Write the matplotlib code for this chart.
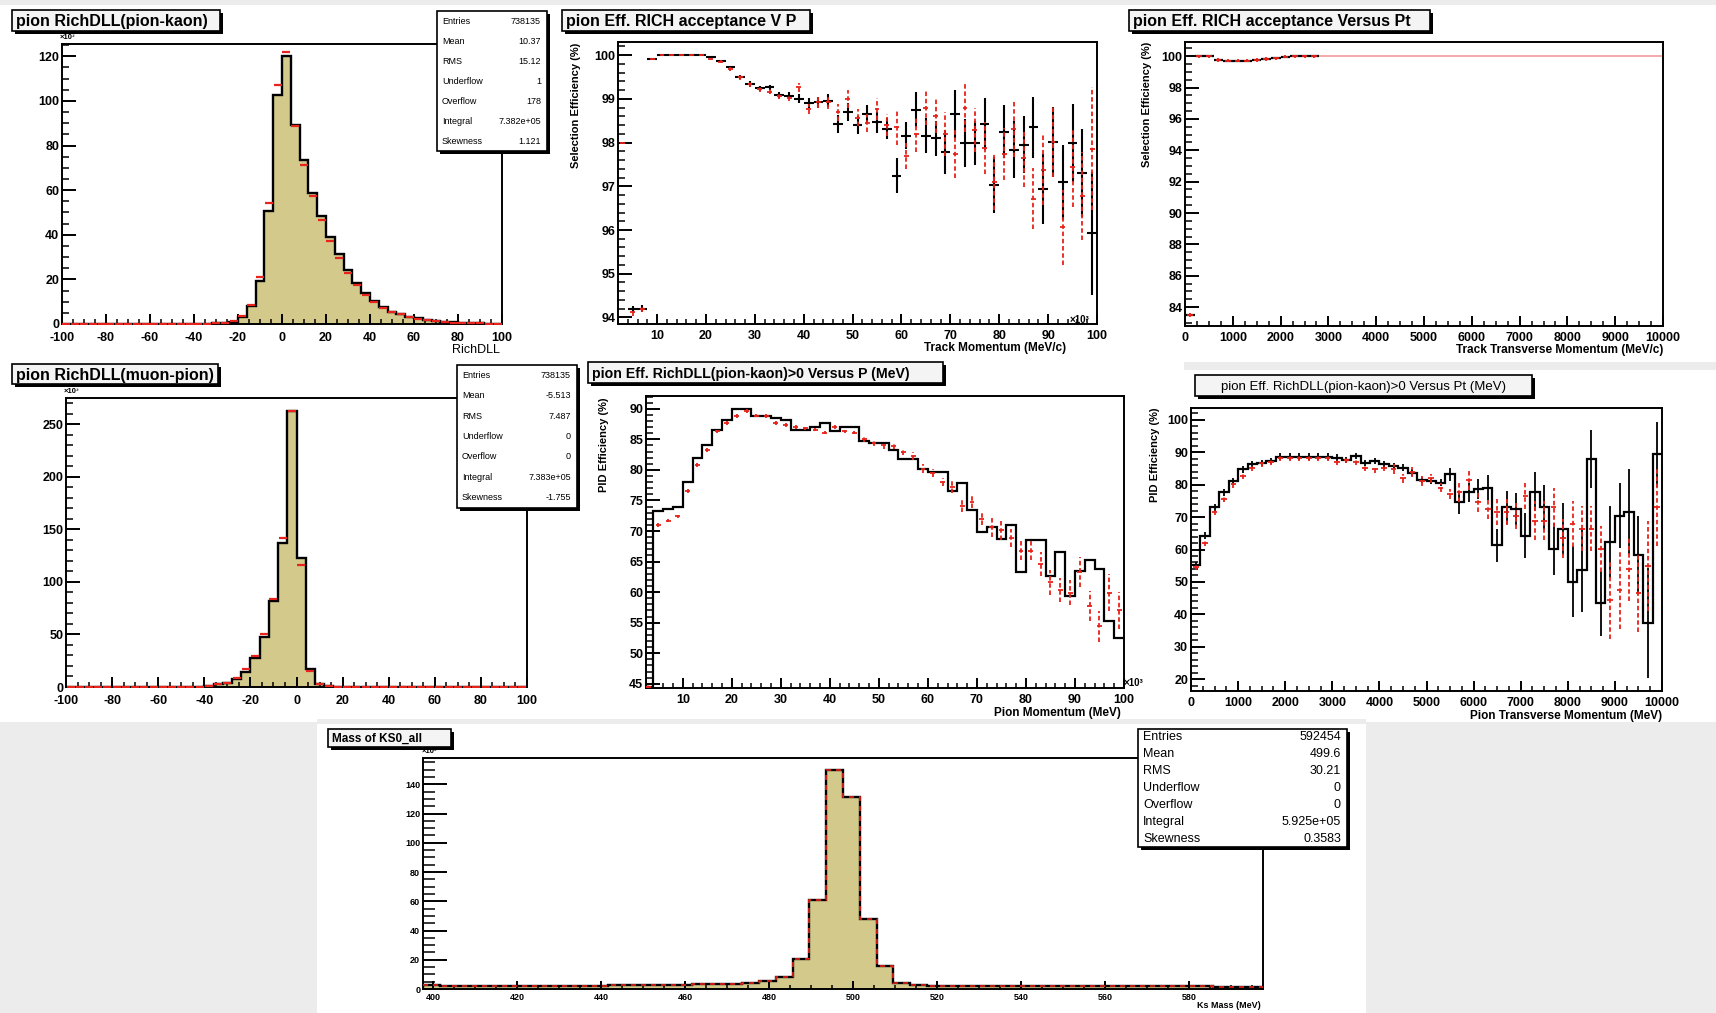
import numpy as np
import matplotlib
matplotlib.use("Agg")
import matplotlib.pyplot as plt
from matplotlib.patches import Rectangle
from matplotlib.ticker import MultipleLocator

plt.rcParams['font.family'] = ['Liberation Sans', 'DejaVu Sans']
plt.rcParams['font.weight'] = 'bold'
plt.rcParams['axes.unicode_minus'] = False

W, H = 1716, 1013

# ---------------- data ----------------
# RichDLL histograms, 50 bins from -100 to 100 (x10^3 entries)
dll_edges = np.linspace(-100, 100, 51)
dll_pk_black = [0.05, 0.05, 0.05, 0.05, 0.05, 0.05, 0.05, 0.05, 0.05, 0.05,
                0.05, 0.1, 0.1, 0.1, 0.1, 0.15, 0.2, 0.3, 0.5, 1.0,
                3.3, 8.2, 19.4, 50.7, 102.8, 120.0, 89.4, 73.3, 58.9, 48.4,
                39.0, 31.3, 24.1, 18.6, 13.9, 10.4, 7.5, 5.5, 4.5, 3.3,
                2.5, 1.9, 1.5, 1.0, 0.7, 0.5, 0.4, 0.3, 0.2, 0.2]
dll_pk_red = [0.05, 0.05, 0.05, 0.05, 0.05, 0.05, 0.05, 0.05, 0.05, 0.05,
              0.05, 0.1, 0.1, 0.1, 0.1, 0.15, 0.2, 0.3, 0.6, 1.2,
              3.7, 8.6, 21.0, 54.4, 107.0, 121.8, 88.7, 71.2, 57.4, 46.5,
              37.0, 29.8, 23.0, 17.6, 13.0, 10.0, 7.2, 5.2, 4.3, 3.1,
              2.4, 1.8, 1.4, 0.9, 0.6, 0.5, 0.4, 0.3, 0.2, 0.2]
dll_mp_black = [0.1, 0.1, 0.1, 0.1, 0.1, 0.1, 0.1, 0.1, 0.1, 0.1,
                0.1, 0.1, 0.1, 0.2, 0.4, 1.3, 2.5, 4.1, 7.3, 14.6,
                27.3, 47.9, 81.9, 136.7, 263.0, 122.5, 16.8, 3.2, 1.0, 0.4,
                0.1, 0.1, 0.1, 0.1, 0.1, 0.1, 0.1, 0.1, 0.1, 0.1,
                0.1, 0.1, 0.1, 0.1, 0.1, 0.1, 0.1, 0.1, 0.1, 0.1]
dll_mp_red = [0.1, 0.1, 0.1, 0.1, 0.1, 0.1, 0.1, 0.1, 0.1, 0.1,
              0.1, 0.1, 0.1, 0.2, 0.4, 1.3, 2.5, 4.0, 8.9, 16.8,
              29.5, 50.0, 83.4, 141.5, 263.0, 116.0, 15.2, 3.0, 1.0, 0.4,
              0.1, 0.1, 0.1, 0.1, 0.1, 0.1, 0.1, 0.1, 0.1, 0.1,
              0.1, 0.1, 0.1, 0.1, 0.1, 0.1, 0.1, 0.1, 0.1, 0.1]
stat_names = ["Entries", "Mean", "RMS", "Underflow", "Overflow", "Integral", "Skewness"]
stat_pk = ["738135", "10.37", "15.12", "1", "178", "7.382e+05", "1.121"]
stat_mp = ["738135", "-5.513", "7.487", "0", "0", "7.383e+05", "-1.755"]

# RICH acceptance vs P, bins of 2 GeV from 2 to 100
p_centers = np.arange(3, 100, 2)
acc_p_black = [np.nan, 94.19, 94.2, 99.9, 100.0, 100.0, 100.0, 100.0, 100.0, 99.96,
               99.86, 99.72, 99.5, 99.34, 99.24, 99.26, 99.09, 99.07, 99.0, 98.9,
               98.92, 98.96, 98.42, 98.7, 98.4, 98.65, 98.46, 98.32, 97.24, 98.16,
               98.75, 98.16, 98.1, 97.79, 98.65, 97.99, 97.99, 98.42, 97.03, 98.25,
               97.84, 97.95, 98.35, 96.94, 98.02, 97.09, 97.99, 97.30, 95.92]
acc_p_red = [97.99, 94.12, 94.2, 99.9, 100.0, 100.0, 100.0, 100.0, 100.0, 99.9,
             99.85, 99.68, 99.49, 99.34, 99.22, 99.16, 99.07, 99.03, 99.26, 98.77,
             98.92, 98.92, 98.69, 99.0, 98.57, 98.45, 98.77, 98.4, 98.35, 97.69,
             98.19, 98.8, 98.61, 98.19, 97.74, 98.8, 98.29, 97.87, 97.1, 97.74,
             98.31, 97.64, 96.72, 97.38, 98.02, 96.06, 97.43, 96.78, 97.86]
acc_p_err = [0.0, 0.08, 0.08, 0.02, 0.01, 0.01, 0.01, 0.01, 0.01, 0.02,
             0.03, 0.04, 0.05, 0.06, 0.06, 0.06, 0.07, 0.08, 0.1, 0.12,
             0.12, 0.15, 0.2, 0.2, 0.2, 0.2, 0.25, 0.25, 0.4, 0.3,
             0.4, 0.4, 0.4, 0.5, 0.55, 0.55, 0.5, 0.6, 0.65, 0.6,
             0.65, 0.65, 0.7, 0.8, 0.8, 0.85, 0.9, 1.0, 1.4]

# RICH acceptance vs Pt, bins of 200 MeV
pt_centers = np.arange(100, 10000, 200)
acc_pt_black = [83.5, 100.0, 100.0, 99.75, 99.72, 99.72, 99.72, 99.75, 99.82, 99.85,
                99.95, 100.0, 100.0, 100.0]
acc_pt_red = [83.5, 100.0, 100.0, 99.75, 99.72, 99.72, 99.72, 99.75, 99.82, 99.85,
              99.95, 100.0, 100.0, 100.0, 100.0, 100.0, 100.0, 100.0, 100.0, 100.0,
              100.0, 100.0, 100.0, 100.0, 100.0, 100.0, 100.0, 100.0, 100.0, 100.0,
              100.0, 100.0, 100.0, 100.0, 100.0, 100.0, 100.0, 100.0, 100.0, 100.0,
              100.0, 100.0, 100.0, 100.0, 100.0, 100.0, 100.0, 100.0, 100.0, 100.0]

# PID efficiency vs P
pid_p_edges = np.arange(2, 101, 2)
pid_p_black = [44.5, 73.3, 73.6, 73.9, 78.0, 81.9, 84.1, 86.5, 88.1, 90.0,
               90.0, 88.9, 88.8, 88.5, 88.2, 86.6, 86.6, 87.0, 87.7, 86.3,
               87.0, 87.0, 84.7, 84.4, 84.4, 83.2, 81.8, 81.8, 80.2, 79.7,
               79.7, 76.5, 77.9, 73.5, 69.9, 70.6, 68.7, 71.0, 63.3, 68.6,
               68.6, 62.6, 66.6, 59.3, 63.5, 65.3, 63.8, 55.2, 52.5]
pid_p_red = [44.5, 71.0, 71.7, 72.4, 76.5, 80.8, 83.3, 86.3, 87.7, 88.8,
             89.6, 88.9, 88.8, 87.7, 87.3, 87.0, 86.8, 86.6, 86.1, 87.0,
             86.3, 86.1, 85.0, 84.4, 84.0, 83.9, 82.9, 82.3, 80.2, 79.5,
             78.0, 77.2, 74.1, 74.7, 72.0, 70.6, 70.1, 68.8, 66.8, 66.8,
             64.6, 61.6, 60.3, 59.9, 63.3, 57.7, 54.4, 59.9, 57.0]
pid_p_err = [0.5, 0.3, 0.3, 0.3, 0.3, 0.3, 0.3, 0.3, 0.3, 0.3,
             0.3, 0.3, 0.3, 0.3, 0.3, 0.3, 0.3, 0.3, 0.3, 0.3,
             0.3, 0.3, 0.5, 0.5, 0.5, 0.5, 0.5, 0.7, 0.7, 0.7,
             0.7, 1.0, 1.0, 1.0, 1.0, 1.5, 1.5, 1.5, 1.5, 1.5,
             2.0, 2.0, 2.0, 2.0, 2.5, 2.5, 2.5, 3.0, 3.0]

# PID efficiency vs Pt
pid_pt_edges = np.arange(0, 10001, 200)
pid_pt_black = [55.1, 64.3, 73.0, 77.6, 81.1, 84.7, 86.2, 86.7, 87.3, 88.6,
                88.6, 88.6, 88.6, 88.6, 88.6, 88.3, 87.6, 88.8, 86.7, 87.3,
                86.2, 85.7, 85.2, 83.7, 81.4, 81.1, 80.6, 83.2, 74.5, 77.6,
                78.6, 79.1, 61.3, 73.0, 72.5, 64.3, 77.8, 73.0, 60.2, 66.4,
                50.1, 53.6, 87.8, 43.4, 62.3, 70.4, 71.7, 58.2, 37.3, 89.3]
pid_pt_black_err = [1, 1, 1, 1, 1, 1, 1, 1, 1, 1,
                    1, 1, 1, 1, 1, 1, 1, 1, 1, 1,
                    1, 1, 1, 1, 1, 1, 1, 2, 3.5, 3,
                    3, 4, 5, 5, 5, 7, 6, 7, 8, 8,
                    11, 13, 9, 10, 11, 10, 13, 12, 17, 10]
pid_pt_red = [54.6, 62.1, 71.7, 75.5, 80.1, 82.7, 85.2, 86.5, 87.0, 88.3,
              88.3, 88.3, 88.3, 88.3, 88.3, 87.0, 87.6, 87.0, 85.2, 84.7,
              85.2, 84.7, 81.9, 83.9, 81.1, 81.9, 79.1, 77.1, 77.6, 81.4,
              74.5, 72.5, 71.7, 71.7, 70.4, 76.6, 68.9, 68.9, 73.0, 63.5,
              67.9, 66.4, 66.4, 60.2, 44.4, 47.5, 54.1, 46.7, 54.9, 73.0]
pid_pt_red_err = [1, 1, 1, 1, 1, 1, 1, 1, 1, 1,
                  1, 1, 1, 1, 1, 1, 1, 1, 1, 1,
                  1, 1.5, 1.5, 1.5, 1.5, 1.5, 1.5, 1.5, 3, 3,
                  3, 3, 4, 4, 4, 4, 6, 6, 6, 6,
                  7, 7, 7, 7, 12, 12, 10, 12, 14, 12]

# Ks mass, 50 bins of 4 MeV
ks_edges = np.linspace(397.6, 597.6, 51)
ks_counts = [2.8, 2.3, 2.3, 2.3, 2.3, 2.3, 2.3, 2.3, 2.3, 2.3,
             2.3, 3.0, 3.0, 3.0, 3.0, 3.0, 3.4, 3.4, 3.4, 4.1,
             5.2, 8.0, 20.5, 61.0, 150.0, 131.6, 47.8, 15.4, 4.1, 2.5,
             2.0, 2.0, 2.0, 2.0, 2.0, 1.9, 1.9, 1.9, 1.9, 1.9,
             1.9, 1.8, 1.8, 1.8, 1.8, 1.8, 1.8, 1.7, 1.7, 1.7]
stat_ks = ["592454", "499.6", "30.21", "0", "0", "5.925e+05", "0.3583"]

KHAKI = '#d3c98b'
RED = '#e8231b'

fig = plt.figure(figsize=(W / 100, H / 100), dpi=100)

bg = fig.add_axes([0, 0, 1, 1], zorder=-5)
bg.set_xlim(0, W)
bg.set_ylim(H, 0)
bg.axis('off')
for (x0, y0, x1, y1) in [(0, 0, W, 5), (0, 722, 317, H), (1366, 722, W, H),
                         (1184, 362, W, 370), (317, 719, 1366, 724)]:
    bg.add_patch(Rectangle((x0, y0), x1 - x0, y1 - y0, fc='#ececec', ec='none'))


def make_axes(L, T, R, B):
    return fig.add_axes([L / W, 1 - B / H, (R - L) / W, (B - T) / H])


def style(ax, xlim, ylim, xmaj, xmin, ymaj, ymin, fs=9, ylen=10, xlen=7, xpad=4):
    ax.set_xlim(*xlim)
    ax.set_ylim(*ylim)
    ax.xaxis.set_major_locator(MultipleLocator(xmaj))
    ax.xaxis.set_minor_locator(MultipleLocator(xmin))
    ax.yaxis.set_major_locator(MultipleLocator(ymaj))
    ax.yaxis.set_minor_locator(MultipleLocator(ymin))
    ax.tick_params(axis='y', which='major', direction='in', length=ylen, width=1.4,
                   labelsize=fs, pad=2, right=False)
    ax.tick_params(axis='y', which='minor', direction='in', length=ylen / 2, width=1.1, right=False)
    ax.tick_params(axis='x', which='major', direction='in', length=xlen, width=1.4,
                   labelsize=fs, pad=xpad, top=False)
    ax.tick_params(axis='x', which='minor', direction='in', length=xlen / 2, width=1.1, top=False)
    for s in ax.spines.values():
        s.set_linewidth(1.4)


def dashed_red(ax, x, y, err, xw):
    eb = ax.errorbar(x, y, yerr=err, xerr=xw, fmt='none', ecolor=RED, elinewidth=1.3, zorder=3)
    eb[2][1].set_linestyle((0, (2.5, 1.5)))


# panel 1: RichDLL(pion-kaon)
ax1 = make_axes(62, 44, 502, 324)
ax1.stairs(dll_pk_black, dll_edges, fill=True, color=KHAKI, zorder=1)
ax1.stairs(dll_pk_black, dll_edges, color='black', lw=1.7, zorder=2)
ax1.plot((dll_edges[:-1] + dll_edges[1:]) / 2, dll_pk_red, ls='none', marker='_',
         color=RED, ms=6, mew=1.6, zorder=3)
style(ax1, (-100, 100), (0, 125.5), 20, 5, 20, 5, xpad=6)

# panel 2: acceptance vs P
ax2 = make_axes(618, 42, 1097, 324)
ax2.errorbar(p_centers, acc_p_black, yerr=acc_p_err, xerr=1, fmt='none', ecolor='black',
             elinewidth=1.5, zorder=2)
dashed_red(ax2, p_centers, acc_p_red, acc_p_err, 0.5)
style(ax2, (2, 100), (93.85, 100.3), 10, 2, 1, 0.2)

# panel 3: acceptance vs Pt
ax3 = make_axes(1185, 42, 1663, 326)
ax3.errorbar(pt_centers[14:], acc_pt_red[14:], xerr=100, fmt='none', ecolor='#f4a3a3',
             elinewidth=1.3, zorder=2)
ax3.errorbar(pt_centers[:14], acc_pt_black, xerr=100, fmt='none', ecolor='black',
             elinewidth=1.6, zorder=2)
ax3.errorbar(pt_centers[:14], acc_pt_red[:14], yerr=0.1, xerr=60, fmt='none', ecolor=RED,
             elinewidth=1.3, zorder=3)
style(ax3, (0, 10000), (82.8, 100.9), 1000, 250, 2, 0.5)

# panel 4: RichDLL(muon-pion)
ax4 = make_axes(66, 398, 527, 687)
ax4.stairs(dll_mp_black, dll_edges, fill=True, color=KHAKI, zorder=1)
ax4.stairs(dll_mp_black, dll_edges, color='black', lw=1.7, zorder=2)
ax4.plot((dll_edges[:-1] + dll_edges[1:]) / 2, dll_mp_red, ls='none', marker='_',
         color=RED, ms=6, mew=1.6, zorder=3)
style(ax4, (-100, 100), (0, 275), 20, 5, 50, 10, xpad=6)

# panel 5: PID efficiency vs P
ax5 = make_axes(646, 396, 1124, 688)
ax5.stairs(pid_p_black, pid_p_edges, color='black', lw=1.6, zorder=2, baseline=None)
dashed_red(ax5, p_centers, pid_p_red, pid_p_err, 0.5)
style(ax5, (2.5, 100), (44.3, 92.1), 10, 2, 5, 1)

# panel 6: PID efficiency vs Pt
ax6 = make_axes(1191, 408, 1662, 691)
ax6.stairs(pid_pt_black, pid_pt_edges, color='black', lw=1.6, zorder=2, baseline=None)
ax6.errorbar(pt_centers, pid_pt_black, yerr=pid_pt_black_err, fmt='none', ecolor='black',
             elinewidth=1.3, zorder=2)
dashed_red(ax6, pt_centers, pid_pt_red, pid_pt_red_err, 60)
style(ax6, (0, 10000), (16.4, 103.6), 1000, 250, 10, 2)

# panel 7: Ks mass
ax7 = make_axes(423, 758, 1263, 989)
ax7.stairs(ks_counts, ks_edges, fill=True, color=KHAKI, zorder=1)
ax7.stairs(ks_counts, ks_edges, color='black', lw=1.7, zorder=2)
ax7.stairs(ks_counts, ks_edges, color=RED, lw=1.2, ls=(0, (3, 3)), zorder=3, baseline=None)
style(ax7, (397.6, 597.6), (0, 158), 20, 5, 20, 5, fs=6.5, ylen=17, xlen=6, xpad=3)

# ---------------- overlay (titles, stats, labels) ----------------
ov = fig.add_axes([0, 0, 1, 1], zorder=10)
ov.set_xlim(0, W)
ov.set_ylim(H, 0)
ov.axis('off')


def title_box(x0, y0, x1, y1, text, fs, weight='bold', center=False):
    ov.add_patch(Rectangle((x0 + 3, y0 + 3), x1 - x0, y1 - y0, fc='black', ec='none'))
    ov.add_patch(Rectangle((x0, y0), x1 - x0, y1 - y0, fc='#f4f4f4', ec='black', lw=1.2))
    if center:
        ov.text((x0 + x1) / 2, (y0 + y1) / 2 + 1, text, fontsize=fs, weight=weight,
                ha='center', va='center')
    else:
        ov.text(x0 + 4, (y0 + y1) / 2 + 1, text, fontsize=fs, weight=weight,
                ha='left', va='center')


def stats_box(x0, y0, x1, y1, values, fs):
    ov.add_patch(Rectangle((x0 + 3, y0 + 3), x1 - x0, y1 - y0, fc='black', ec='none'))
    ov.add_patch(Rectangle((x0, y0), x1 - x0, y1 - y0, fc='white', ec='black', lw=1.2))
    h = (y1 - y0) / len(values)
    for i, (n, v) in enumerate(zip(stat_names, values)):
        yc = y0 + (i + 0.5) * h
        ov.text(x0 + 5, yc, n, fontsize=fs, weight='normal', ha='left', va='center')
        ov.text(x1 - 6, yc, v, fontsize=fs, weight='normal', ha='right', va='center')


title_box(12, 10, 220, 31, "pion RichDLL(pion-kaon)", 11.5)
title_box(562, 10, 810, 31, "pion Eff. RICH acceptance V P", 11.5)
title_box(1129, 10, 1430, 31, "pion Eff. RICH acceptance Versus Pt", 11.5)
title_box(12, 364, 218, 384, "pion RichDLL(muon-pion)", 11.5)
title_box(588, 362, 943, 383, "pion Eff. RichDLL(pion-kaon)>0 Versus P (MeV)", 10.2)
title_box(1195, 375, 1532, 396, "pion Eff. RichDLL(pion-kaon)>0 Versus Pt (MeV)", 9.5, weight='normal', center=True)
title_box(328, 729, 451, 747, "Mass of KS0_all", 8.5)

stats_box(437, 11, 547, 151, stat_pk, 6.5)
stats_box(457, 365, 577, 508, stat_mp, 6.5)
stats_box(1138, 729, 1347, 847, stat_ks, 9)

# exponent labels
ov.text(60, 41, "×10³", fontsize=5.5, ha='left', va='bottom')
ov.text(64, 395, "×10³", fontsize=5.5, ha='left', va='bottom')
ov.text(422, 755, "×10³", fontsize=5.5, ha='left', va='bottom')
ov.text(1070, 320, "×10³", fontsize=7, ha='left', va='center')
ov.text(1124, 683, "×10³", fontsize=7, ha='left', va='center')

# axis titles
ov.text(500, 350, "RichDLL", fontsize=9, weight='normal', ha='right', va='center')
ov.text(1066, 348, "Track Momentum (MeV/c)", fontsize=8.5, ha='right', va='center')
ov.text(1663, 350, "Track Transverse Momentum (MeV/c)", fontsize=8.5, ha='right', va='center')
ov.text(1121, 713, "Pion Momentum (MeV)", fontsize=8.5, ha='right', va='center')
ov.text(1662, 716, "Pion Transverse Momentum (MeV)", fontsize=8.5, ha='right', va='center')
ov.text(1261, 1005, "Ks Mass (MeV)", fontsize=6.5, ha='right', va='center')
ov.text(576, 43, "Selection Efficiency (%)", fontsize=8, rotation=90, ha='center', va='top')
ov.text(1147, 42, "Selection Efficiency (%)", fontsize=8, rotation=90, ha='center', va='top')
ov.text(604, 397, "PID Efficiency (%)", fontsize=8, rotation=90, ha='center', va='top')
ov.text(1155, 407, "PID Efficiency (%)", fontsize=8, rotation=90, ha='center', va='top')

fig.savefig("out.png", dpi=100)
